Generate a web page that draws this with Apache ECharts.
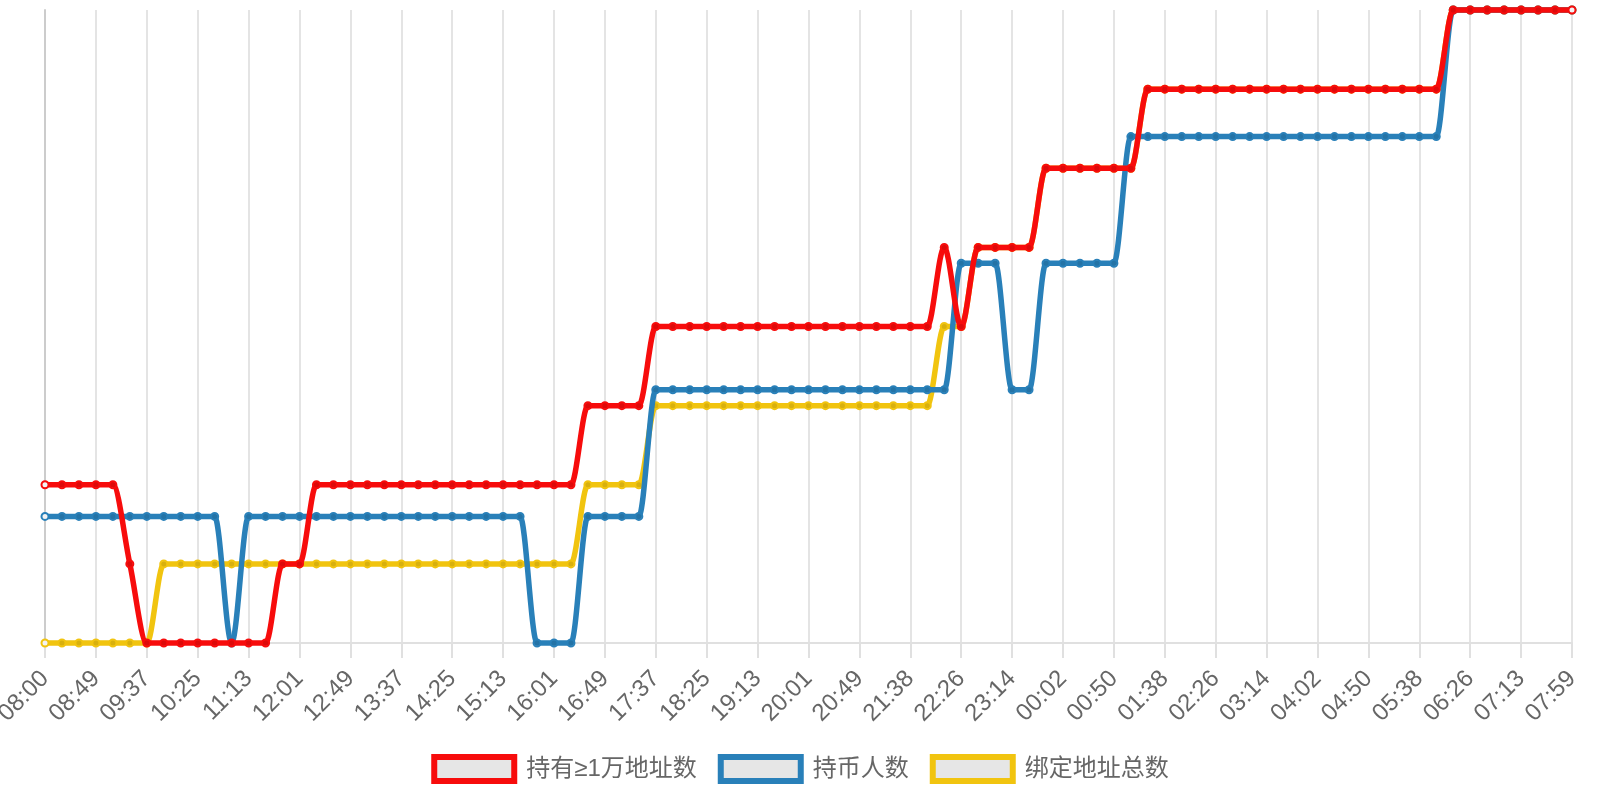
<!DOCTYPE html>
<html>
<head>
<meta charset="utf-8">
<script src="https://cdn.jsdelivr.net/npm/echarts@6/dist/echarts.min.js"></script>
<style>
  html, body { margin: 0; padding: 0; background: #fff; }
  #chart { width: 1600px; height: 800px; }
</style>
</head>
<body>
<div id="chart"></div>
<script>
// one point every ~16 min, labels every 3rd point
const times = [
  '08:00', '08:16', '08:33', '08:49', '09:05', '09:21', '09:37', '09:53', '10:09', '10:25',
  '10:41', '10:57', '11:13', '11:29', '11:45', '12:01', '12:17', '12:33', '12:49', '13:05',
  '13:21', '13:37', '13:53', '14:09', '14:25', '14:41', '14:57', '15:13', '15:29', '15:45',
  '16:01', '16:17', '16:33', '16:49', '17:05', '17:21', '17:37', '17:53', '18:09', '18:25',
  '18:41', '18:57', '19:13', '19:29', '19:45', '20:01', '20:17', '20:33', '20:49', '21:05',
  '21:22', '21:38', '21:54', '22:10', '22:26', '22:42', '22:58', '23:14', '23:30', '23:46',
  '00:02', '00:18', '00:34', '00:50', '01:06', '01:22', '01:38', '01:54', '02:10', '02:26',
  '02:42', '02:58', '03:14', '03:30', '03:46', '04:02', '04:18', '04:34', '04:50', '05:06',
  '05:22', '05:38', '05:54', '06:10', '06:26', '06:42', '06:57', '07:13', '07:28', '07:44',
  '07:59'
]

// 持有≥1万地址数 (relative level)
const holders10k = [
  2, 2, 2, 2, 2, 1, 0, 0, 0, 0,
  0, 0, 0, 0, 1, 1, 2, 2, 2, 2,
  2, 2, 2, 2, 2, 2, 2, 2, 2, 2,
  2, 2, 3, 3, 3, 3, 4, 4, 4, 4,
  4, 4, 4, 4, 4, 4, 4, 4, 4, 4,
  4, 4, 4, 5, 4, 5, 5, 5, 5, 6,
  6, 6, 6, 6, 6, 7, 7, 7, 7, 7,
  7, 7, 7, 7, 7, 7, 7, 7, 7, 7,
  7, 7, 7, 8, 8, 8, 8, 8, 8, 8,
  8
]

// 持币人数
const holders = [
  1, 1, 1, 1, 1, 1, 1, 1, 1, 1,
  1, 0, 1, 1, 1, 1, 1, 1, 1, 1,
  1, 1, 1, 1, 1, 1, 1, 1, 1, 0,
  0, 0, 1, 1, 1, 1, 2, 2, 2, 2,
  2, 2, 2, 2, 2, 2, 2, 2, 2, 2,
  2, 2, 2, 2, 3, 3, 3, 2, 2, 3,
  3, 3, 3, 3, 4, 4, 4, 4, 4, 4,
  4, 4, 4, 4, 4, 4, 4, 4, 4, 4,
  4, 4, 4, 5, 5, 5, 5, 5, 5, 5,
  5
]

// 绑定地址总数
const bound = [
  0, 0, 0, 0, 0, 0, 0, 1, 1, 1,
  1, 1, 1, 1, 1, 1, 1, 1, 1, 1,
  1, 1, 1, 1, 1, 1, 1, 1, 1, 1,
  1, 1, 2, 2, 2, 2, 3, 3, 3, 3,
  3, 3, 3, 3, 3, 3, 3, 3, 3, 3,
  3, 3, 3, 4, 4, 5, 5, 5, 5, 6,
  6, 6, 6, 6, 6, 7, 7, 7, 7, 7,
  7, 7, 7, 7, 7, 7, 7, 7, 7, 7,
  7, 7, 7, 8, 8, 8, 8, 8, 8, 8,
  8
]

const seriesNames = ['持有≥1万地址数', '持币人数', '绑定地址总数']
const lineColors = ['#f70c0c', '#2980b9', '#f1c40f']
const LINE_WIDTH = 5.5

const chart = echarts.init(document.getElementById('chart'))

// monotone cubic tangents (Fritsch-Carlson) on pixel points
const monotoneSlopes = pts => {
  const n = pts.length
  const delta = []
  for (let i = 0; i < n - 1; i++) {
    const dx = pts[i + 1][0] - pts[i][0]
    delta.push(dx ? (pts[i + 1][1] - pts[i][1]) / dx : 0)
  }
  const m = []
  for (let i = 0; i < n; i++) {
    if (i === 0) m.push(delta[0])
    else if (i === n - 1) m.push(delta[n - 2])
    else if (Math.sign(delta[i - 1]) !== Math.sign(delta[i])) m.push(0)
    else m.push((delta[i - 1] + delta[i]) / 2)
  }
  for (let i = 0; i < n - 1; i++) {
    if (Math.abs(delta[i]) < 1e-9) {
      m[i] = 0
      m[i + 1] = 0
      continue
    }
    const a = m[i] / delta[i]
    const b = m[i + 1] / delta[i]
    const mag = a * a + b * b
    if (mag > 9) {
      const tau = 3 / Math.sqrt(mag)
      m[i] = a * tau * delta[i]
      m[i + 1] = b * tau * delta[i]
    }
  }
  return m
}

// curve drawn segment by segment from axis coordinates
const makeCurve = (idx, values, yAxisIndex, z) => ({
  name: seriesNames[idx],
  type: 'custom',
  yAxisIndex: yAxisIndex,
  z: z,
  silent: true,
  encode: { x: 0, y: 1 },
  data: values.map((v, i) => [i, v]),
  renderItem: (params, api) => {
    const i = params.dataIndex
    if (i >= values.length - 1) return null
    const pts = values.map((v, k) => api.coord([k, v]))
    const m = monotoneSlopes(pts)
    const p1 = pts[i]
    const p2 = pts[i + 1]
    const dx = (p2[0] - p1[0]) / 3
    return {
      type: 'bezierCurve',
      shape: {
        x1: p1[0], y1: p1[1],
        x2: p2[0], y2: p2[1],
        cpx1: p1[0] + dx, cpy1: p1[1] + dx * m[i],
        cpx2: p2[0] - dx, cpy2: p2[1] - dx * m[i + 1]
      },
      style: { stroke: lineColors[idx], lineWidth: LINE_WIDTH, fill: null, lineCap: 'round' }
    }
  }
})

// point markers only; end points get a light centre
const makeDots = (idx, values, yAxisIndex, z) => ({
  name: seriesNames[idx],
  type: 'line',
  yAxisIndex: yAxisIndex,
  z: z,
  showAllSymbol: true,
  symbol: 'circle',
  symbolSize: 7,
  lineStyle: { width: 0, opacity: 0 },
  itemStyle: { color: 'rgba(0,0,0,0.1)', borderColor: lineColors[idx], borderWidth: 2 },
  emphasis: { disabled: true },
  data: values.map((v, i) => {
    if (i === 0 || i === values.length - 1) {
      return { value: v, itemStyle: { color: '#f3f3f3' } }
    }
    return v
  })
})

const option = {
  animation: false,
  backgroundColor: '#fff',
  grid: { left: 45, right: 28, top: 10, bottom: 157, containLabel: false, outerBoundsMode: 'none' },
  legend: {
    left: 'center',
    top: 749,
    icon: 'rect',
    itemWidth: 80,
    itemHeight: 24,
    itemGap: 21,
    selectedMode: false,
    textStyle: {
      fontSize: 24,
      color: '#666',
      fontFamily: 'Liberation Sans, Noto Sans CJK SC',
      padding: [0, 0, 0, 7]
    },
    data: seriesNames.map((n, i) => ({
      name: n,
      itemStyle: { color: '#e6e6e6', borderColor: lineColors[i], borderWidth: 6 }
    }))
  },
  xAxis: {
    type: 'category',
    boundaryGap: false,
    data: times,
    axisLine: { lineStyle: { color: '#e0e0e0', width: 2 } },
    axisTick: { show: true, interval: 2, length: 15, lineStyle: { color: '#e0e0e0', width: 2 } },
    axisLabel: {
      interval: 2,
      rotate: 45,
      margin: 32,
      fontSize: 24,
      color: '#666',
      fontFamily: 'Liberation Sans'
    },
    splitLine: { show: true, interval: 2, lineStyle: { color: '#e4e4e4', width: 2 } }
  },
  yAxis: [
    {
      type: 'value',
      min: 0,
      max: 8,
      axisLine: { show: true, lineStyle: { color: '#cccccc', width: 2 } },
      axisTick: { show: false },
      axisLabel: { show: false },
      splitLine: { show: false }
    },
    {
      type: 'value',
      min: 0,
      max: 5,
      show: false,
      splitLine: { show: false }
    }
  ],
  series: [
    makeCurve(2, bound, 0, 2),
    makeDots(2, bound, 0, 3),
    makeCurve(1, holders, 1, 4),
    makeDots(1, holders, 1, 5),
    makeCurve(0, holders10k, 0, 6),
    makeDots(0, holders10k, 0, 7)
  ]
}

chart.setOption(option)
</script>
</body>
</html>
